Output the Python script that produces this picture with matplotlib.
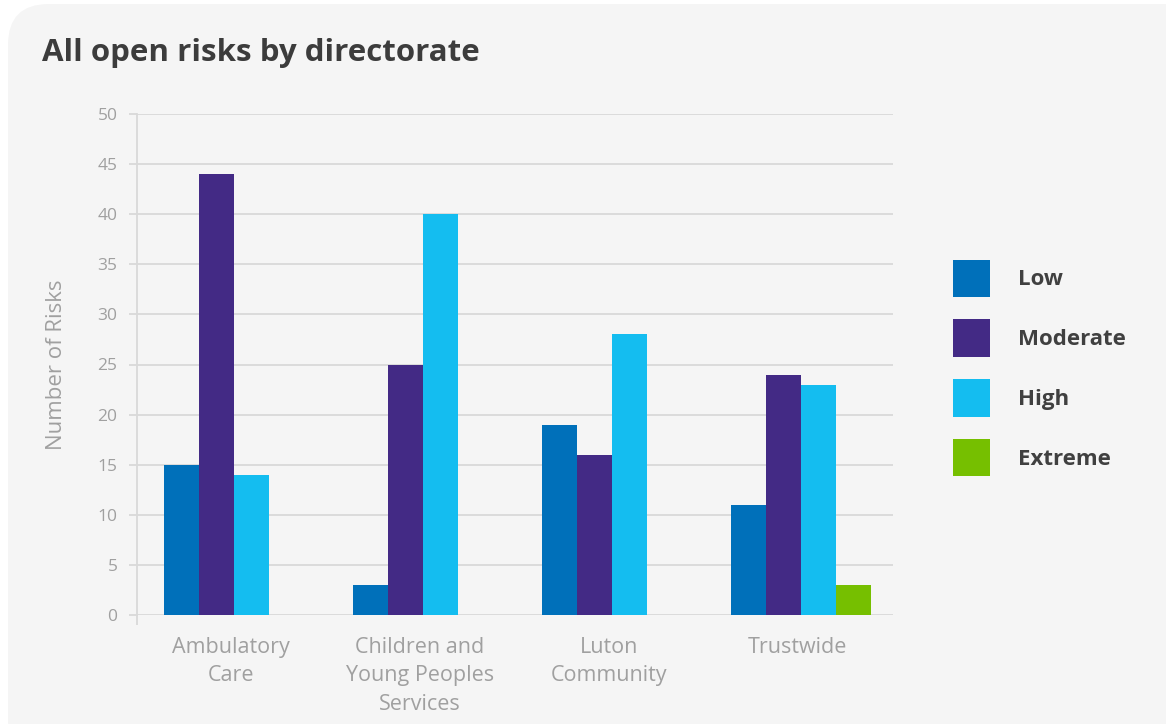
import numpy as np
import matplotlib.pyplot as plt
from matplotlib.patches import FancyBboxPatch, Patch

categories = ["Ambulatory\nCare", "Children and\nYoung Peoples\nServices", "Luton\nCommunity", "Trustwide"]
low = [15, 3, 19, 11]
moderate = [44, 25, 16, 24]
high = [14, 40, 28, 23]
extreme = [0, 0, 0, 3]

series = ["Low", "Moderate", "High", "Extreme"]
colors = ["#0070ba", "#432a85", "#14bdf0", "#76bf00"]

plt.rcParams['font.family'] = ['Open Sans', 'DejaVu Sans']

fig = plt.figure(figsize=(11.66, 7.24), dpi=100)
fig.patch.set_facecolor("white")
panel = FancyBboxPatch((8 / 1166, -0.05), 1.2, 1.05 - 4 / 724,
                       boxstyle="round,pad=0,rounding_size=0.035",
                       transform=fig.transFigure, facecolor="#f5f5f5",
                       edgecolor="none", zorder=-5, mutation_aspect=1166 / 724)
fig.patches.append(panel)

ax = fig.add_axes([137 / 1166, 1 - 615 / 724, 756 / 1166, 501 / 724])
ax.set_facecolor("none")

x = np.arange(len(categories))
w = 0.185
for i, (vals, name, c) in enumerate(zip([low, moderate, high, extreme], series, colors)):
    ax.bar(x + 0.012 + (i - 1.5) * w, vals, width=w, color=c, label=name, zorder=3)

ax.set_xlim(-0.5, 3.5)
ax.set_ylim(0, 50)
ax.set_yticks(range(0, 51, 5))
ax.yaxis.grid(True, color="#d9d9d9", linewidth=1.3, zorder=0)
ax.set_xticks(x - 0.004)
ax.set_xticklabels(categories, fontsize=15.5, color="#a0a0a0", linespacing=1.45, va="top")
ax.set_xticks([-0.5], minor=True)
ax.tick_params(axis="x", which="major", length=0, pad=16)
ax.tick_params(axis="x", which="minor", length=7, color="#d9d9d9", width=1.3)
ax.tick_params(axis="y", length=6, color="#d9d9d9", width=1.3, labelsize=12.5,
               labelcolor="#a0a0a0", pad=8)
for s in ["top", "right", "bottom"]:
    ax.spines[s].set_visible(False)
ax.spines["left"].set_color("#d9d9d9")
ax.spines["left"].set_linewidth(1.3)

ax.set_ylabel("Number of Risks", fontsize=16, color="#a0a0a0", labelpad=22)

fig.text(42 / 1166, 1 - 53 / 724, "All open risks by directorate", fontsize=22.5,
         fontweight="bold", color="#3c3c3c", va="center", ha="left")

handles = [Patch(facecolor=c, edgecolor="none") for c in colors]
leg = fig.legend(handles, series, loc="center left",
                 bbox_to_anchor=(933 / 1166, 1 - 368 / 724), frameon=False,
                 prop={"size": 16, "weight": "bold"}, handlelength=1.67,
                 handleheight=2.2, labelspacing=1.02, handletextpad=1.25)
for t in leg.get_texts():
    t.set_color("#404040")

fig.savefig("out.png", dpi=100, facecolor=fig.get_facecolor())
